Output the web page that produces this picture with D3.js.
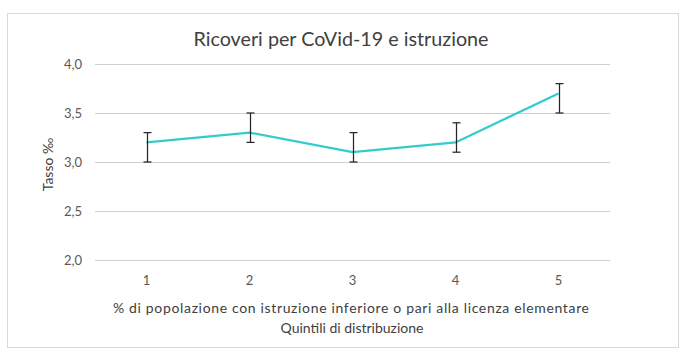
<!DOCTYPE html>
<html><head><meta charset="utf-8">
<script src="https://cdn.jsdelivr.net/npm/d3@7"></script>
<style>body{margin:0;background:#fff}svg{display:block}</style>
</head><body>
<svg id="c" width="686" height="356"></svg>
<script>
const categories = ["1","2","3","4","5"];
const values = [3.2, 3.3, 3.1, 3.2, 3.7];
const errLow = [3.0, 3.2, 3.0, 3.1, 3.5];
const errHigh = [3.3, 3.5, 3.3, 3.4, 3.8];
const yTicks = [2.0, 2.5, 3.0, 3.5, 4.0];

const svg = d3.select("#c");
const font = "Lato, 'Open Sans', sans-serif";
svg.append("rect").attr("x",7.5).attr("y",13.5).attr("width",671).attr("height",334)
  .attr("fill","#fff").attr("stroke","#d9d9d9");

const x = d3.scaleBand().domain(categories).range([95,610]);
const y = d3.scaleLinear().domain([2,4]).range([260,64]);

const fmt = d => d.toFixed(1).replace(".", ",");
svg.append("g").selectAll("line").data(yTicks).join("line")
  .attr("x1",95).attr("x2",610).attr("y1",d=>y(d)+0.5).attr("y2",d=>y(d)+0.5)
  .attr("stroke","#d0d0d0").attr("stroke-width",1);

const yAxis = svg.append("g").attr("transform","translate(95,0)")
  .call(d3.axisLeft(y).tickValues(yTicks).tickFormat(fmt).tickSize(0).tickPadding(13));
yAxis.select(".domain").remove();
yAxis.selectAll("text").attr("font-family",font).attr("font-size",13).attr("fill","#595959");

const xAxis = svg.append("g").attr("transform","translate(0,276)")
  .call(d3.axisBottom(x).tickSize(0).tickPadding(0));
xAxis.select(".domain").remove();
xAxis.selectAll("text").attr("font-family",font).attr("font-size",13).attr("fill","#595959");

const cx = c => x(c) + x.bandwidth()/2;
const data = categories.map((c,i)=>({c, v:values[i], lo:errLow[i], hi:errHigh[i]}));

svg.append("path").datum(data)
  .attr("d", d3.line().x(d=>cx(d.c)).y(d=>y(d.v)))
  .attr("fill","none").attr("stroke","#33cccc").attr("stroke-width",2.25);

const eb = svg.append("g").attr("stroke","#262626").attr("stroke-width",1.25);
data.forEach(d=>{
  const X = Math.round(cx(d.c))+0.5;
  eb.append("line").attr("x1",X).attr("x2",X).attr("y1",y(d.hi)).attr("y2",y(d.lo));
  eb.append("line").attr("x1",X-4).attr("x2",X+4).attr("y1",y(d.hi)).attr("y2",y(d.hi));
  eb.append("line").attr("x1",X-4).attr("x2",X+4).attr("y1",y(d.lo)).attr("y2",y(d.lo));
});

svg.append("text").attr("x",341).attr("y",46).attr("text-anchor","middle")
  .attr("font-family",font).attr("font-size",19.5).attr("fill","#404040")
  .attr("textLength",295).attr("lengthAdjust","spacingAndGlyphs")
  .text("Ricoveri per CoVid-19 e istruzione");

svg.append("text").attr("transform","translate(53,164.5) rotate(-90)").attr("text-anchor","middle")
  .attr("font-family",font).attr("font-size",14).attr("fill","#404040").text("Tasso ‰");

svg.append("text").attr("x",351).attr("y",313).attr("text-anchor","middle")
  .attr("font-family",font).attr("font-size",14).attr("fill","#404040")
  .attr("textLength",476).attr("lengthAdjust","spacing")
  .text("% di popolazione con istruzione inferiore o pari alla licenza elementare");
svg.append("text").attr("x",352).attr("y",333).attr("text-anchor","middle")
  .attr("font-family",font).attr("font-size",14).attr("fill","#404040")
  .text("Quintili di distribuzione");
</script>
</body></html>
